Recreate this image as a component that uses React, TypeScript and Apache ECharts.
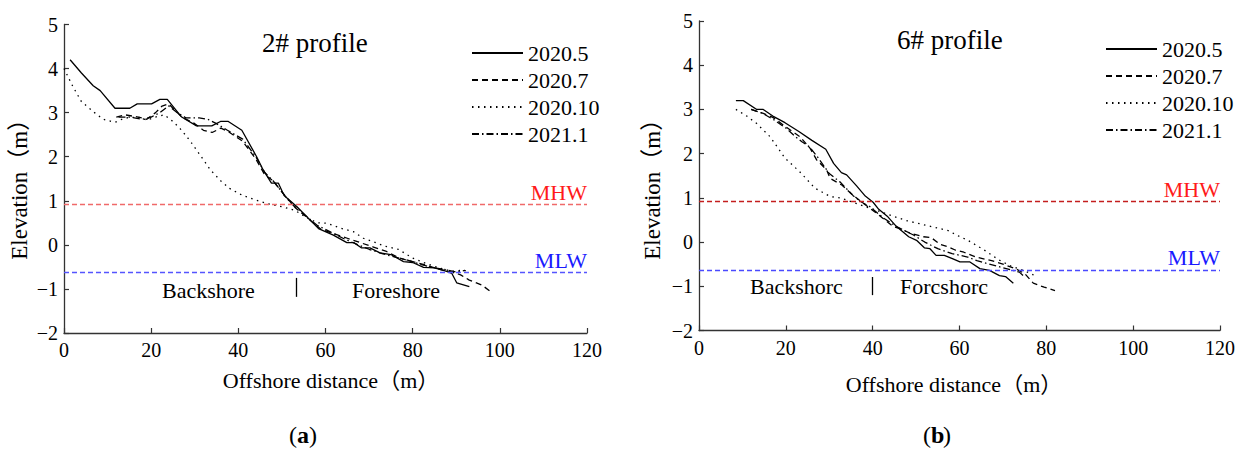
import React, { useEffect, useRef } from "react";
import * as echarts from "echarts";

type Pt = [number, number];

const SERIES_NAMES = ["2020.5", "2020.7", "2020.10", "2021.1"];
const X_MIN = 0;
const X_MAX = 120;
const X_STEP = 20;
const Y_MIN = -2;
const Y_MAX = 5;
const Y_STEP = 1;
const MHW = 0.92;
const MLW = -0.63;

// ---- 2# profile ----
const p2_2020_5: Pt[] = [
  [1.4, 4.2], [4, 3.9], [6.7, 3.61], [8.3, 3.5], [11.7, 3.1], [15.1, 3.1], [16.8, 3.2], [20.1, 3.2],
  [22, 3.3], [23.7, 3.3], [27, 2.9], [30.4, 2.7], [33.9, 2.7], [35.9, 2.8], [37.7, 2.8], [40.8, 2.6],
  [44.2, 2.0], [45.7, 1.7], [47.6, 1.4], [49.2, 1.4], [50.5, 1.12], [53.4, 0.87], [55.7, 0.64],
  [58.4, 0.37], [61.8, 0.22], [64.9, 0.05], [66.5, 0.05], [68.3, -0.07], [70.2, -0.07], [72.5, -0.18],
  [75, -0.22], [77.9, -0.38], [80, -0.4], [82.5, -0.51], [85, -0.52], [87.8, -0.6], [89, -0.65],
  [90.1, -0.86], [93, -0.95],
];
const p2_2020_7: Pt[] = [
  [12, 2.9], [14, 2.95], [17, 2.9], [19, 2.85], [21, 3.0], [22.5, 3.15], [24, 3.2], [27, 2.9],
  [30, 2.75], [32, 2.6], [34, 2.55], [36, 2.65], [38, 2.55], [41, 2.35], [44, 1.95], [46, 1.6],
  [48, 1.45], [50, 1.2], [53, 0.85], [56, 0.6], [59, 0.35], [62, 0.25], [65, 0.15], [68, 0.05],
  [71, -0.05], [74, -0.15], [77, -0.3], [80, -0.38], [83, -0.46], [86, -0.55], [89, -0.62],
  [91, -0.68], [93, -0.8], [96, -0.92], [98, -1.07],
];
const p2_2020_10: Pt[] = [
  [0, 4.0], [2, 3.6], [4, 3.25], [7, 3.0], [9, 2.85], [11.7, 2.78], [14, 2.88], [17, 2.9], [19, 2.83],
  [21, 2.9], [23, 2.95], [25, 2.8], [27, 2.6], [29, 2.35], [31, 2.07], [33.6, 1.7], [36, 1.45],
  [38, 1.28], [41, 1.12], [43.3, 1.04], [46.8, 0.93], [50.3, 0.86], [53, 0.78], [56, 0.6], [58.2, 0.5],
  [60.3, 0.49], [63.4, 0.38], [66.4, 0.3], [68.7, 0.15], [71, 0.07], [73.6, -0.03], [76.7, -0.1],
  [80, -0.3], [83, -0.42], [86, -0.52], [89, -0.6], [91.6, -0.57], [92.4, -0.6],
];
const p2_2021_1: Pt[] = [
  [12.5, 2.9], [15, 2.9], [18, 2.85], [20, 2.9], [22, 3.0], [24, 3.15], [26, 3.0], [28, 2.88],
  [31, 2.88], [33, 2.85], [35, 2.75], [37.5, 2.6], [41, 2.4], [44, 2.0], [46, 1.65], [48, 1.45],
  [50, 1.2], [52, 0.95], [55, 0.7], [58, 0.45], [61, 0.3], [64, 0.15], [67, 0.02], [70, -0.1],
  [73, -0.2], [76, -0.28], [79, -0.35], [82, -0.45], [85, -0.52], [88, -0.57], [90, -0.62], [92, -0.58],
];

// ---- 6# profile ----
const p6_2020_5: Pt[] = [
  [8.5, 3.2], [10.2, 3.2], [13.3, 3.0], [14.8, 3.0], [17, 2.85], [19.8, 2.7], [23, 2.5], [26, 2.3],
  [29.2, 2.1], [31, 1.78], [32.8, 1.57], [34, 1.52], [36.3, 1.27], [38.3, 1.04], [40.1, 0.9],
  [41.4, 0.74], [43.5, 0.57], [45.5, 0.35], [48.3, 0.12], [50.1, 0.04], [51.9, -0.13], [53.2, -0.15],
  [54.6, -0.3], [56.5, -0.3], [58.5, -0.38], [60.1, -0.45], [62.4, -0.45], [64.7, -0.6], [66.9, -0.64],
  [69.2, -0.76], [70.6, -0.78], [72.4, -0.93],
];
const p6_2020_7: Pt[] = [
  [12, 3.0], [14.8, 2.91], [17, 2.82], [19.4, 2.65], [21.5, 2.5], [23.3, 2.38], [25.6, 2.12],
  [27.1, 1.86], [29.4, 1.63], [30.2, 1.44], [32.9, 1.29], [35, 1.1], [37.8, 0.88], [40.9, 0.65],
  [44.7, 0.35], [46.5, 0.3], [48.6, 0.2], [51.7, 0.12], [53.5, 0.1], [55.5, -0.05], [57.4, -0.11],
  [59, -0.18], [61, -0.23], [63.8, -0.34], [67.4, -0.42], [70, -0.5], [72.9, -0.6], [75.1, -0.72],
  [77, -0.93], [79.5, -1.02], [82, -1.1],
];
const p6_2020_10: Pt[] = [
  [8.5, 3.0], [11, 2.85], [13.3, 2.68], [16.4, 2.38], [19.8, 1.9], [23.3, 1.58], [26.7, 1.22],
  [30.2, 1.03], [32.5, 1.0], [34, 0.95], [36, 0.88], [39, 0.78], [42, 0.68], [45.5, 0.56], [48, 0.48],
  [51, 0.41], [54, 0.34], [57.4, 0.26], [59.5, 0.15], [61.9, 0.04], [64, -0.08], [66, -0.2], [69, -0.4],
  [72, -0.55], [75, -0.65], [77.4, -0.76],
];
const p6_2021_1: Pt[] = [
  [12, 3.0], [14.5, 2.92], [17, 2.78], [20, 2.58], [22, 2.4], [23.7, 2.27], [25.5, 2.15], [27.5, 1.9],
  [30, 1.55], [32.6, 1.35], [35.5, 1.05], [37.5, 0.9], [39.4, 0.8], [42.4, 0.55], [45.5, 0.35],
  [47.5, 0.25], [49.4, 0.16], [52, 0.0], [55, -0.15], [58.3, -0.26], [61.9, -0.34], [64, -0.42],
  [66.5, -0.49], [70, -0.58], [73.8, -0.68], [74.7, -0.76],
];

const P2_DATA = [p2_2020_5, p2_2020_7, p2_2020_10, p2_2021_1];
const P6_DATA = [p6_2020_5, p6_2020_7, p6_2020_10, p6_2021_1];

// zone separators (top and bottom ends)
const P2_SEP: Pt[] = [[53.2, -0.75], [53.2, -1.18]];
const P6_SEP: Pt[] = [[40, -0.79], [40, -1.2]];

const FONT = '"Times New Roman", "Liberation Serif", "Noto Sans CJK SC", serif';
const LINE_TYPES: any[] = ["solid", [6, 4], [1.5, 4.5], [7, 3, 1.5, 3]];

function buildOption() {
  const series: any[] = [];
  const grids = [
    { data: P2_DATA, sep: P2_SEP, mhwLine: "#f06a6a", mlwLine: "#5555ff" },
    { data: P6_DATA, sep: P6_SEP, mhwLine: "#c41e1e", mlwLine: "#4a4aff" },
  ];
  grids.forEach((g, gi) => {
    g.data.forEach((d, i) => {
      const s: any = {
        type: "line",
        name: SERIES_NAMES[i],
        data: d,
        xAxisIndex: gi,
        yAxisIndex: gi,
        symbol: "none",
        showSymbol: false,
        silent: true,
        z: 3,
        lineStyle: { color: "#000", width: 1.3, type: LINE_TYPES[i] },
      };
      if (i === 0) {
        s.markLine = {
          silent: true,
          symbol: ["none", "none"],
          animation: false,
          data: [
            {
              yAxis: MHW,
              lineStyle: { color: g.mhwLine, type: [5, 3], width: 1.3 },
              label: {
                show: true,
                formatter: "MHW",
                position: "insideEndTop",
                distance: [0, 1],
                color: "#ff1a1a",
                fontSize: 22,
                fontFamily: FONT,
              },
            },
            {
              yAxis: MLW,
              lineStyle: { color: g.mlwLine, type: [5, 3], width: 1.3 },
              label: {
                show: true,
                formatter: "MLW",
                position: "insideEndTop",
                distance: [0, 1],
                color: "#1a1aff",
                fontSize: 22,
                fontFamily: FONT,
              },
            },
            [
              {
                coord: g.sep[0],
                lineStyle: { color: "#000", type: "solid", width: 1.3 },
                label: { show: false },
              },
              { coord: g.sep[1] },
            ],
          ],
        };
      }
      series.push(s);
    });
  });

  const axisCommon = {
    type: "value",
    axisLine: { show: true, onZero: false, lineStyle: { color: "#333", width: 1.3 } },
    axisTick: { show: true, inside: true, length: 5, lineStyle: { color: "#333", width: 1.2 } },
    splitLine: { show: false },
    nameLocation: "middle",
  };
  const tickFmt = (v: number) => String(v).replace("-", "\u2212");

  const xAxis = [0, 1].map((gi) => ({
    ...axisCommon,
    gridIndex: gi,
    min: X_MIN,
    max: X_MAX,
    interval: X_STEP,
    name: "Offshore distance（m）",
    nameGap: gi === 0 ? 36 : 43,
    nameTextStyle: {
      fontSize: 22,
      fontFamily: FONT,
      color: "#000",
      padding: gi === 0 ? [0, 0, 0, 11] : [0, 11, 0, 0],
    },
    axisLabel: { fontSize: 20, fontFamily: FONT, color: "#000", margin: 7, formatter: tickFmt },
  }));
  const yAxis = [0, 1].map((gi) => ({
    ...axisCommon,
    gridIndex: gi,
    min: Y_MIN,
    max: Y_MAX,
    interval: Y_STEP,
    name: "Elevation（m）",
    nameGap: gi === 0 ? 33 : 35,
    nameTextStyle: {
      fontSize: 23,
      fontFamily: FONT,
      color: "#000",
      padding: gi === 0 ? [0, 10, 0, 0] : [0, 16, 0, 0],
    },
    axisLabel: { fontSize: 20, fontFamily: FONT, color: "#000", margin: 6, formatter: tickFmt },
  }));

  const legendCommon = {
    data: SERIES_NAMES,
    orient: "vertical",
    itemWidth: 51,
    itemHeight: 14,
    itemGap: 5,
    selectedMode: false,
    textStyle: { fontSize: 22, fontFamily: FONT, color: "#000" },
    itemStyle: { color: "rgba(0,0,0,0)", borderColor: "rgba(0,0,0,0)", borderWidth: 0 },
  };

  const txt = (text: string, x: number, y: number, size: number, bold = false) => ({
    type: "text",
    x,
    y,
    silent: true,
    style: {
      text,
      fill: "#000",
      fontSize: size,
      fontFamily: FONT,
      fontWeight: bold ? "bold" : "normal",
      verticalAlign: "middle",
      align: "left",
    },
  });
  // panel label "(x)" with bold letter, split into three plain texts
  const panel = (letter: string, cx: number, y: number) => [
    txt("(", cx - 14, y, 24),
    txt(letter, cx - 6, y, 24, true),
    txt(")", cx + 6, y, 24),
  ];

  return {
    animation: false,
    backgroundColor: "#fff",
    grid: [
      { left: 64, top: 24.5, width: 523, height: 308.5, containLabel: false },
      { left: 699, top: 21, width: 521, height: 309.5, containLabel: false },
    ],
    xAxis,
    yAxis,
    legend: [
      { ...legendCommon, left: 466, top: 37 },
      { ...legendCommon, left: 1100, top: 33 },
    ],
    graphic: [
      txt("2# profile", 262, 43, 27),
      txt("6# profile", 897, 40, 27),
      txt("Backshore", 162, 290, 22),
      txt("Foreshore", 352, 290, 22),
      txt("Backshorc", 750, 286, 22),
      txt("Forcshorc", 900, 286, 22),
      ...panel("a", 303, 435),
      ...panel("b", 937, 435),
    ],
    series,
  };
}

export default function App() {
  const ref = useRef<HTMLDivElement>(null);
  useEffect(() => {
    if (!ref.current) return;
    const chart = echarts.init(ref.current, undefined, { renderer: "svg" });
    chart.setOption(buildOption() as any);
    return () => chart.dispose();
  }, []);
  return (
    <div
      ref={ref}
      style={{ position: "absolute", left: 0, top: 0, width: 1244, height: 450, background: "#fff" }}
    />
  );
}
